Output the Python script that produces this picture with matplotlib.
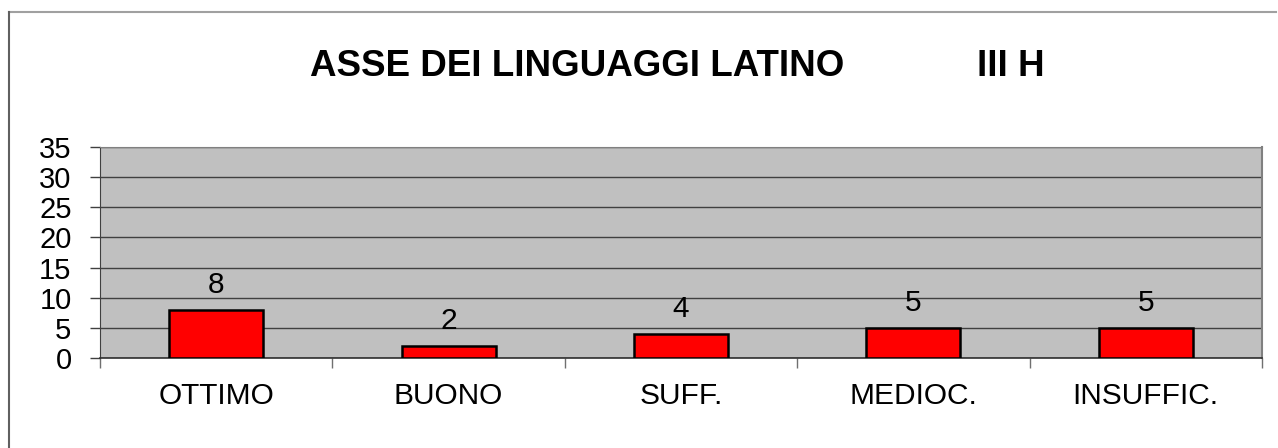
import matplotlib
matplotlib.use('Agg')
import matplotlib.pyplot as plt
from matplotlib.lines import Line2D

plt.rcParams['font.family'] = ['Liberation Sans', 'DejaVu Sans']

# Valutazioni e numero di studenti
categorie = ['OTTIMO', 'BUONO', 'SUFF.', 'MEDIOC.', 'INSUFFIC.']
studenti = [8, 2, 4, 5, 5]
y_ticks = [0, 5, 10, 15, 20, 25, 30, 35]

W, H = 1278, 448
fig = plt.figure(figsize=(W / 100, H / 100), dpi=100)
fig.patch.set_facecolor('white')

# cornice del grafico (solo bordo superiore e sinistro)
fig.add_artist(Line2D([9 / W, 1276 / W], [1 - 12 / H, 1 - 12 / H],
                      transform=fig.transFigure, color='#a0a0a0', lw=1.5))
fig.add_artist(Line2D([9 / W, 9 / W], [1 - 12 / H, 0],
                      transform=fig.transFigure, color='#606060', lw=1.5))

# titolo
fig.text(310 / W, 1 - 76 / H, 'ASSE DEI LINGUAGGI LATINO', fontsize=26.5,
         fontweight='bold', ha='left', va='baseline')
fig.text(977 / W, 1 - 76 / H, 'III H', fontsize=26.5,
         fontweight='bold', ha='left', va='baseline')

left, right, top, bottom = 100, 1262, 147, 358
ax = fig.add_axes([left / W, 1 - bottom / H, (right - left) / W, (bottom - top) / H])
ax.set_facecolor('#c0c0c0')

x = list(range(len(categorie)))
ax.bar(x, studenti, width=0.405, color='#ff0000', edgecolor='black', linewidth=1.8, zorder=3)

for xi, v in zip(x, studenti):
    ax.annotate(str(v), (xi, v), xytext=(0, 12), textcoords='offset points',
                ha='center', va='baseline', fontsize=21.5)

ax.set_xlim(-0.5, len(categorie) - 0.5)
ax.set_ylim(0, 35)
ax.set_yticks(y_ticks)
ax.set_yticklabels([str(t) for t in y_ticks], fontsize=21)
ax.yaxis.grid(True, color='#404040', lw=1.0, zorder=1)
ax.set_axisbelow(True)

ax.set_xticks(x)
ax.set_xticklabels(categorie, fontsize=21.5)
ax.set_xticks([i - 0.5 for i in range(len(categorie) + 1)], minor=True)
ax.tick_params(axis='x', which='major', length=0, pad=17)
ax.tick_params(axis='x', which='minor', length=7, width=1, color='#707070', direction='out')
ax.tick_params(axis='y', length=7.5, width=1, color='#404040', pad=13, direction='out')

ax.spines['left'].set_color('#404040')
ax.spines['bottom'].set_color('#303030')
ax.spines['bottom'].set_linewidth(1.2)
ax.spines['top'].set_color('#808080')
ax.spines['right'].set_color('#808080')
ax.spines['right'].set_linewidth(1.5)

fig.savefig('out.png', dpi=100)
